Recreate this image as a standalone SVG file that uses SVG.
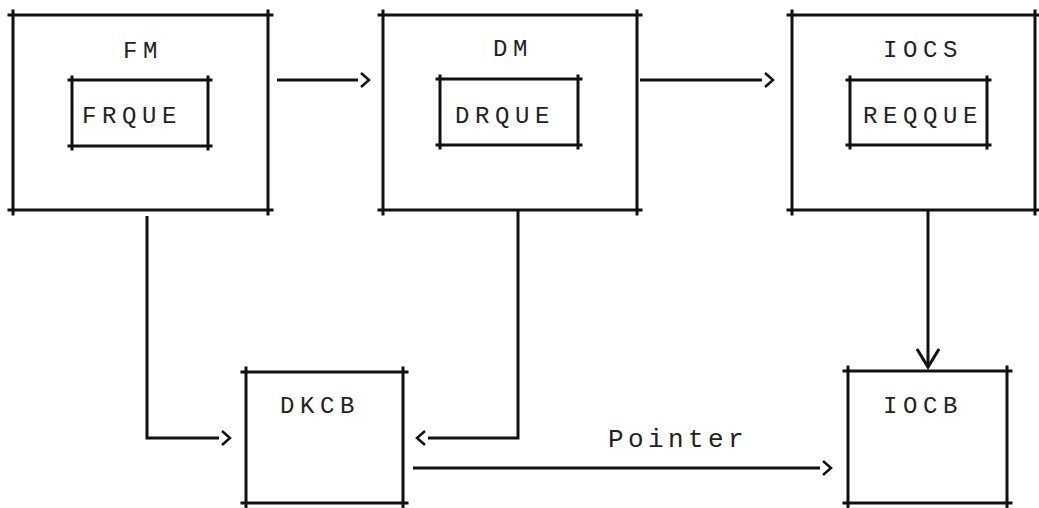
<svg xmlns="http://www.w3.org/2000/svg" width="1039" height="508" viewBox="0 0 1039 508">
<style>
.box{fill:none;stroke:#111;stroke-width:3;stroke-linecap:square}
.ln{fill:none;stroke:#111;stroke-width:3}
.t{font-family:"Liberation Mono",monospace;font-size:24px;letter-spacing:5.6px;fill:#222}
.p{font-size:26px;letter-spacing:4.4px}
</style>
<defs>
<marker id="chev" markerUnits="userSpaceOnUse" viewBox="-10 -10 30 30" markerWidth="30" markerHeight="30" refX="-3" refY="7" orient="auto" overflow="visible">
<path d="M0,0 L8,7 L0,14" fill="none" stroke="#111" stroke-width="2.5"/>
</marker>
<marker id="vee" markerUnits="userSpaceOnUse" viewBox="-15 -15 30 30" markerWidth="30" markerHeight="30" refX="0" refY="0" orient="auto" overflow="visible">
<path d="M-18,-11 L0,0 L-18,11" fill="none" stroke="#111" stroke-width="3"/>
</marker>
</defs>
<rect width="1039" height="508" fill="#fff"/>
<g id="FM">
<path class="box" d="M9,15H272M9,210H272M13,11V214M268,11V214"/>
<text class="t" x="123" y="58">FM</text>
<g id="FRQUE">
<path class="box" d="M69,80H211M69,146H211M72,77V149M208,77V149"/>
<text class="t" x="82" y="123">FRQUE</text>
</g>
</g>
<g id="DM">
<path class="box" d="M379,15H641M379,210H641M383,11V214M637,11V214"/>
<text class="t" x="493" y="56">DM</text>
<g id="DRQUE">
<path class="box" d="M437,79H581M437,145H581M440,76V148M578,76V148"/>
<text class="t" x="455" y="123">DRQUE</text>
</g>
</g>
<g id="IOCS">
<path class="box" d="M788,15H1039M788,210H1039M792,11V214M1035,11V214"/>
<text class="t" x="883" y="57">IOCS</text>
<g id="REQQUE">
<path class="box" d="M847,80H990M847,145H990M850,77V148M987,77V148"/>
<text class="t" x="863" y="123">REQQUE</text>
</g>
</g>
<g id="DKCB">
<path class="box" d="M242,372H407M242,503H407M246,368V507M403,368V507"/>
<text class="t" x="280" y="413">DKCB</text>
</g>
<g id="IOCB">
<path class="box" d="M844,371H1011M844,503H1011M848,367V507M1007,367V507"/>
<text class="t" x="883" y="413">IOCB</text>
</g>
<g id="connectors">
<line class="ln" x1="277" y1="80" x2="358" y2="80" marker-end="url(#chev)"/>
<line class="ln" x1="640" y1="80" x2="762" y2="80" marker-end="url(#chev)"/>
<polyline class="ln" points="147,216 147,438 219,438" marker-end="url(#chev)"/>
<polyline class="ln" points="518,210 518,438 428,438" marker-end="url(#chev)"/>
<line class="ln" x1="413" y1="468" x2="820" y2="468" marker-end="url(#chev)"/>
<line class="ln" x1="928" y1="210" x2="928" y2="367" marker-end="url(#vee)"/>
<text class="t p" x="608" y="447">Pointer</text>
</g>
</svg>
